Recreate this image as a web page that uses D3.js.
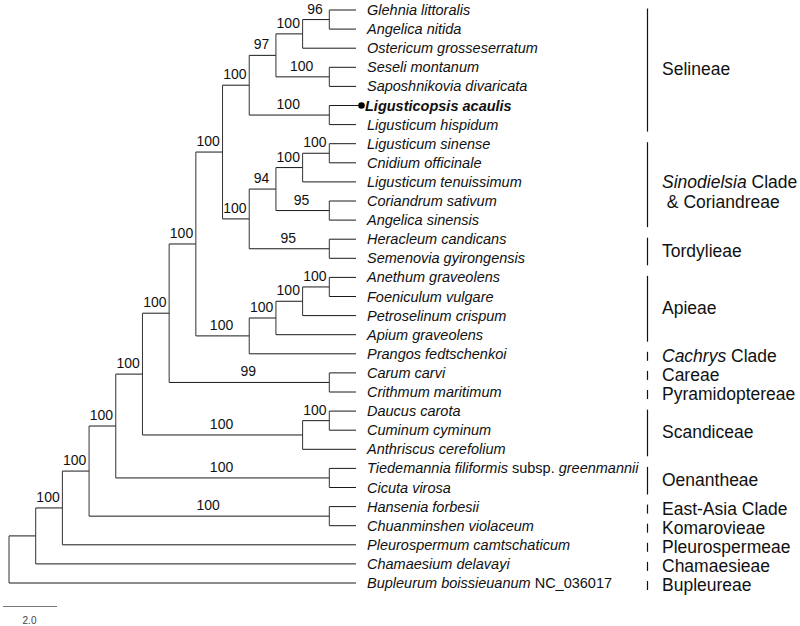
<!DOCTYPE html>
<html><head><meta charset="utf-8">
<script src="https://cdn.jsdelivr.net/npm/d3@7"></script>
<style>body{margin:0;background:#fff}svg{display:block}text{font-family:"Liberation Sans",Arial,sans-serif}</style>
</head><body><svg id="c" width="800" height="626"></svg>
<script>
// ---- data ----
const tipNames = [
  "Glehnia littoralis","Angelica nitida","Ostericum grosseserratum","Seseli montanum",
  "Saposhnikovia divaricata","Ligusticopsis acaulis","Ligusticum hispidum","Ligusticum sinense",
  "Cnidium officinale","Ligusticum tenuissimum","Coriandrum sativum","Angelica sinensis",
  "Heracleum candicans","Semenovia gyirongensis","Anethum graveolens","Foeniculum vulgare",
  "Petroselinum crispum","Apium graveolens","Prangos fedtschenkoi","Carum carvi",
  "Crithmum maritimum","Daucus carota","Cuminum cyminum","Anthriscus cerefolium",
  "Tiedemannia filiformis subsp. greenmannii","Cicuta virosa","Hansenia forbesii",
  "Chuanminshen violaceum","Pleurospermum camtschaticum","Chamaesium delavayi",
  "Bupleurum boissieuanum NC_036017"
];
const plainWords = ["subsp.","NC_036017"];
const highlightTip = 5;
// topology (tip indices) with bootstrap supports, Newick pieces
const selineae   = "((((0,1)96,2)100,(3,4)100)97,(5,6)100)100";
const sinoTord   = "((((7,8)100,9)100,(10,11)95)94,(12,13)95)100";
const apieae     = "((((14,15)100,16)100,17)100,18)100";
const newick =
  "((((((((" + "(" + selineae + "," + sinoTord + ")100," + apieae + ")100," +
  "(19,20)99)100," + "((21,22)100,23)100)100," + "(24,25)100)100," +
  "(26,27)100)100," + "28)100," + "29)," + "30)";
const cladeLabels = [["Selineae"],["*Sinodielsia* Clade"," & Coriandreae"],["Tordylieae"],["Apieae"],
  ["*Cachrys* Clade"],["Careae"],["Pyramidoptereae"],["Scandiceae"],["Oenantheae"],
  ["East-Asia Clade"],["Komarovieae"],["Pleurospermeae"],["Chamaesieae"],["Bupleureae"]];
const cladeFirst = [0,7,12,14,18,19,20,21,24,26,27,28,29,30];
const cladeLast  = [6,11,13,17,18,19,20,23,25,26,27,28,29,30];
const scaleValue = 2.0;

// ---- parse ----
function parseNewick(s){
  let i=0;
  function node(){
    const n={};
    if(s[i]==='('){
      i++; n.children=[node()];
      while(s[i]===','){i++; n.children.push(node());}
      i++;
    }
    let lab='';
    while(i<s.length && !',);'.includes(s[i])) lab+=s[i++];
    if(n.children) n.support=lab; else n.tip=+lab;
    return n;
  }
  return node();
}
const root = d3.hierarchy(parseNewick(newick));
d3.cluster().nodeSize([1,1]).separation(()=>1)(root);
const nodes = root.descendants(), leaves = root.leaves();

const yS = d3.scaleLinear().domain(d3.extent(leaves,d=>d.x)).range([10,583]);
const xS = d3.scaleLinear().domain([0,d3.max(nodes,d=>d.y)]).range([9,356]);
const tipY = {}; leaves.forEach(l=>tipY[l.data.tip]=yS(l.x));

const svg = d3.select("#c");
const g = svg.append("g");

// horizontal branches
g.selectAll("line.h").data(nodes.filter(d=>d.parent)).join("line")
  .attr("x1",d=>xS(d.parent.y)).attr("x2",d=>xS(d.y)+(d.data.tip===highlightTip?2:0))
  .attr("y1",d=>yS(d.x)).attr("y2",d=>yS(d.x))
  .attr("stroke","#1a1a1a").attr("stroke-width",1);
// vertical connectors
g.selectAll("line.v").data(nodes.filter(d=>d.children)).join("line")
  .attr("x1",d=>xS(d.y)).attr("x2",d=>xS(d.y))
  .attr("y1",d=>yS(d.children[0].x)).attr("y2",d=>yS(d.children[d.children.length-1].x))
  .attr("stroke","#333").attr("stroke-width",1);
// supports
g.selectAll("text.s").data(nodes.filter(d=>d.parent && d.data.support)).join("text")
  .attr("x",d=>(xS(d.parent.y)+xS(d.y))/2-1).attr("y",d=>yS(d.x)-6)
  .attr("text-anchor","middle").attr("font-size",14).attr("fill","#111")
  .text(d=>d.data.support);

// tip labels
leaves.forEach(l=>{
  const idx=l.data.tip, y=yS(l.x), hl = idx===highlightTip;
  const t = g.append("text").attr("x",xS(l.y)+11).attr("y",y).attr("dy","0.35em")
    .attr("font-size",14.5).attr("fill","#111");
  if(hl){
    g.append("circle").attr("cx",xS(l.y)+5.5).attr("cy",y).attr("r",3.3).attr("fill","#000");
    t.attr("font-weight","bold").attr("x",xS(l.y)+9);
  }
  const words = tipNames[idx].split(" ");
  words.forEach((w,k)=>{
    t.append("tspan").attr("font-style",plainWords.includes(w)?"normal":"italic")
      .text((k?" ":"")+w);
  });
});

// clade bars and labels
const barX = 647.5, labX = 662;
cladeLabels.forEach((lines,i)=>{
  const a=tipY[cladeFirst[i]], b=tipY[cladeLast[i]];
  const single = cladeFirst[i]===cladeLast[i];
  g.append("line").attr("x1",barX).attr("x2",barX)
    .attr("y1",single? a-2 : a-1.5).attr("y2",b+7)
    .attr("stroke","#111").attr("stroke-width",1.2);
  const mid=(a+b)/2;
  lines.forEach((ln,j)=>{
    const t=g.append("text").attr("x",labX).attr("y",mid+(lines.length>1?0:2)+j*20)
      .attr("dy","0.35em").attr("font-size",17.5).attr("fill","#111")
      .style("white-space","pre");
    ln.split(/(\*[^*]+\*)/).filter(s=>s.length).forEach(p=>{
      if(p.startsWith("*")) t.append("tspan").attr("font-style","italic").text(p.slice(1,-1));
      else t.append("tspan").text(p);
    });
  });
});

// scale bar
const sb = d3.scaleLinear().domain([0,scaleValue]).range([3,57]);
g.append("line").attr("x1",sb(0)).attr("x2",sb(scaleValue)).attr("y1",606.5).attr("y2",606.5)
  .attr("stroke","#777").attr("stroke-width",1.2);
g.append("text").attr("x",(sb(0)+sb(scaleValue))/2-0.5).attr("y",620).attr("dy","0.35em")
  .attr("text-anchor","middle").attr("font-size",10).attr("fill","#444").text(scaleValue.toFixed(1));
</script></body></html>
